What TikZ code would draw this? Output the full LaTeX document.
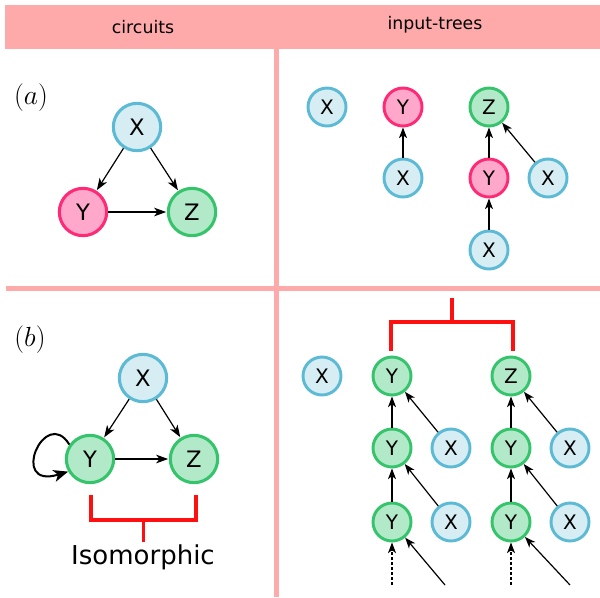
\documentclass[tikz,border=0pt]{standalone}
\usepackage{fontspec}
\setmainfont{DejaVu Sans}
\usetikzlibrary{arrows.meta}
\definecolor{hdr}{HTML}{FFAAAA}
\definecolor{xfill}{HTML}{D6EDF3}
\definecolor{xline}{HTML}{5CBAD4}
\definecolor{yfill}{HTML}{FFA8CB}
\definecolor{yline}{HTML}{FF2A76}
\definecolor{zfill}{HTML}{B2E9C8}
\definecolor{zline}{HTML}{35C46C}
\definecolor{brk}{HTML}{FF1010}
\tikzset{
  big/.style={circle, line width=2.3pt, minimum size=35.5pt, inner sep=0pt, font=\fontsize{17}{20}\selectfont},
  small/.style={circle, line width=2.2pt, minimum size=28.5pt, inner sep=0pt, font=\fontsize{15}{18}\selectfont},
  nx/.style={draw=xline, fill=xfill},
  ny/.style={draw=yline, fill=yfill},
  nz/.style={draw=zline, fill=zfill},
  arrbig/.style={-{Stealth[length=9pt,width=6.5pt,inset=2.5pt]}, line width=0.9pt, shorten >=0.5pt},
  arrsm/.style={-{Stealth[length=8pt,width=6pt,inset=2.2pt]}, line width=0.9pt},
  divider/.style={draw=hdr, line width=3.8pt},
  bracket/.style={draw=brk, line width=2.3pt},
  lbl/.style={font=\fontsize{22}{26}\selectfont},
}
\begin{document}
\begin{tikzpicture}[x=0.75pt,y=-0.75pt]
\useasboundingbox (0,0) rectangle (600,597);
% header
\fill[hdr] (5,5) rectangle (600,48.5);
\node[font=\fontsize{13}{16}\selectfont] (hc) at (143,27) {circuits};
\node[font=\fontsize{13}{16}\selectfont] (ht) at (435,25) {input-trees};
% dividers
\path[divider] (276.5,48) -- (276.5,597);
\path[divider] (5.5,288.5) -- (600,288.5);
% (a) circuit
\node[lbl] (la) at (31,98) {$(a)$};
\node[big,nx] (ax) at (137,127) {X};
\node[big,ny] (ay) at (83,212) {Y};
\node[big,nz] (az) at (192,212) {Z};
\draw[arrbig] (ax) -- (ay);
\draw[arrbig] (ax) -- (az);
\draw[arrbig] (ay) -- (az);
% (a) trees
\node[small,nx] (t1x) at (327,107) {X};
\node[small,ny] (t2y) at (403,107) {Y};
\node[small,nx] (t2x) at (403,178) {X};
\node[small,nz] (t3z) at (489,107) {Z};
\node[small,ny] (t3y) at (489,178) {Y};
\node[small,nx] (t3xr) at (548,178) {X};
\node[small,nx] (t3xb) at (489,250) {X};
\draw[arrsm] (t2x) -- (t2y);
\draw[arrsm] (t3y) -- (t3z);
\draw[arrsm] (t3xr) -- (t3z);
\draw[arrsm] (t3xb) -- (t3y);
% (b) circuit
\node[lbl] (lb) at (30,340) {$(b)$};
\node[big,nx] (bx) at (143,378) {X};
\node[big,nz] (by) at (90,459) {Y};
\node[big,nz] (bz) at (194,459) {Z};
\draw[arrbig] (bx) -- (by);
\draw[arrbig] (bx) -- (bz);
\draw[arrbig] (by) -- (bz);
\draw[-{Stealth[length=11pt,width=9pt,inset=3pt]}, line width=1.5pt]
  (by.145) .. controls (45,405) and (8,490) .. (by.210);
% isomorphic bracket
\coordinate (ib1) at (91,495);
\coordinate (ib2) at (91,520);
\coordinate (ib3) at (196,520);
\coordinate (ib4) at (196,495);
\coordinate (ibm) at (143.5,520);
\coordinate (ibs) at (143.5,542);
\draw[bracket] (ib1) -- (ib2) -- (ib3) -- (ib4);
\draw[bracket] (ibm) -- (ibs);
\node[font=\fontsize{19.5}{23}\selectfont] (iso) at (143,557) {Isomorphic};
% (b) trees
\node[small,nx] (u1x) at (322,376) {X};
\node[small,nz] (u2y1) at (392,376) {Y};
\node[small,nz] (u2y2) at (392,448) {Y};
\node[small,nx] (u2x2) at (451,448) {X};
\node[small,nz] (u2y3) at (392,522) {Y};
\node[small,nx] (u2x3) at (451,522) {X};
\node[small,nz] (u3z) at (511,376) {Z};
\node[small,nz] (u3y2) at (511,448) {Y};
\node[small,nx] (u3x2) at (570,448) {X};
\node[small,nz] (u3y3) at (511,522) {Y};
\node[small,nx] (u3x3) at (570,522) {X};
\draw[arrsm] (u2y2) -- (u2y1);
\draw[arrsm] (u2x2) -- (u2y1);
\draw[arrsm] (u2y3) -- (u2y2);
\draw[arrsm] (u2x3) -- (u2y2);
\draw[arrsm] (u3y2) -- (u3z);
\draw[arrsm] (u3x2) -- (u3z);
\draw[arrsm] (u3y3) -- (u3y2);
\draw[arrsm] (u3x3) -- (u3y2);
\coordinate (d2v) at (392,585);
\coordinate (d2d) at (445,585);
\coordinate (d3v) at (511,585);
\coordinate (d3d) at (570,585);
\draw[arrsm, dash pattern=on 2.5pt off 1.2pt] (d2v) -- (u2y3);
\draw[arrsm] (d2d) -- (u2y3);
\draw[arrsm, dash pattern=on 2.5pt off 1.2pt] (d3v) -- (u3y3);
\draw[arrsm] (d3d) -- (u3y3);
% top bracket
\coordinate (tb1) at (391,351);
\coordinate (tb2) at (391,322);
\coordinate (tb3) at (513,322);
\coordinate (tb4) at (513,351);
\coordinate (tbm) at (452,322);
\coordinate (tbs) at (452,298);
\draw[bracket] (tb1) -- (tb2) -- (tb3) -- (tb4);
\draw[bracket] (tbm) -- (tbs);
\end{tikzpicture}
\end{document}
